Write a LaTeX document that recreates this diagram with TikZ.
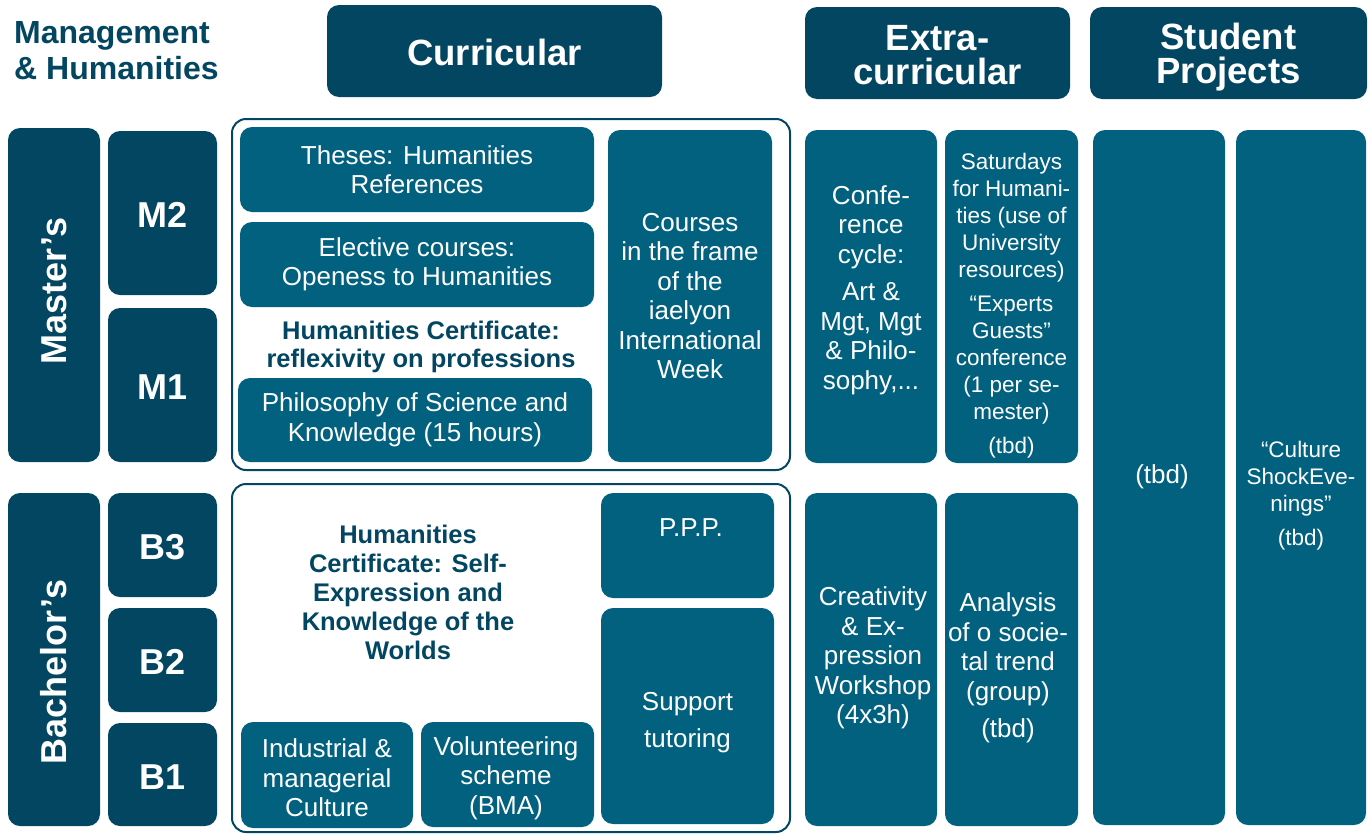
\documentclass[tikz,border=0pt]{standalone}
\usepackage{fontspec}
\setmainfont{Liberation Sans}
\usepackage{tikz}
\definecolor{navy}{RGB}{3,70,98}
\definecolor{petrol}{RGB}{1,97,127}
\tikzset{
  head/.style={fill=navy, rounded corners=12pt, inner sep=0pt, text=white, align=center,
    font=\bfseries\fontsize{36.5}{33.5}\selectfont},
  level/.style={fill=navy, rounded corners=12pt, inner sep=0pt, text=white, text height=29pt,
    font=\bfseries\fontsize{36}{38}\selectfont},
  item/.style={fill=petrol, rounded corners=12pt, inner sep=0pt, text=white, align=center,
    font=\fontsize{26}{29.5}\selectfont},
  small/.style={text=white, align=center, inner sep=0pt, font=\fontsize{22.5}{27}\selectfont},
  plain/.style={text=white, align=center, inner sep=0pt, font=\fontsize{26}{29.5}\selectfont},
  cert/.style={text=navy, align=center, inner sep=0pt, font=\bfseries\fontsize{25.5}{29}\selectfont},
  group/.style={draw=navy, line width=2pt, rounded corners=14pt},
}

\begin{document}
\begin{tikzpicture}[x=1pt, y=-1pt]
  \useasboundingbox (0, 0) rectangle (1368, 833);

  % headers
  \node[text=navy, align=left, anchor=west, inner sep=0pt, font=\bfseries\fontsize{32}{36}\selectfont]
    (title) at (14, 51) {Management\\\& Humanities};
  \node[head, text height=29pt, minimum width=335pt, minimum height=92pt] (curr) at (494.5, 51) {Curricular};
  \node[head, minimum width=265pt, minimum height=92pt] (extra) at (937.5, 53) {};
  \node[head, fill=none] (extratxt) at (937.5, 55) {Extra-\\curricular};
  \node[head, minimum width=277pt, minimum height=92pt] (stud) at (1228.5, 53) {};
  \node[head, fill=none, font=\bfseries\fontsize{36.5}{34}\selectfont] (studtxt) at (1228.5, 57) {Student\\Projects};

  % degrees and years
  \node[level, minimum width=92pt, minimum height=334pt] (master) at (54, 295) {};
  \node[level, text height=, rotate=90] (mastertxt) at (54, 291) {Master’s};
  \node[level, minimum width=92pt, minimum height=333pt] (bachelor) at (54, 659.5) {};
  \node[level, text height=, rotate=90] (bachelortxt) at (54, 672) {Bachelor’s};
  \node[level, minimum width=109pt, minimum height=164pt] (m2) at (162.5, 213) {M2};
  \node[level, minimum width=109pt, minimum height=154pt] (m1) at (162.5, 385) {M1};
  \node[level, minimum width=109pt, minimum height=104pt] (b3) at (162.5, 545) {B3};
  \node[level, minimum width=109pt, minimum height=104pt] (b2) at (162.5, 660) {B2};
  \node[level, minimum width=109pt, minimum height=103pt] (b1) at (162.5, 774.5) {B1};

  % curricular, master
  \draw[group] (232, 119) rectangle (790, 470);
  \node[item, minimum width=354pt, minimum height=85pt] (theses) at (417, 169.5) {Theses: Humanities\\References};
  \node[item, minimum width=354pt, minimum height=85pt] (elective) at (417, 264.5) {Elective courses:\\Openess to Humanities};
  \node[cert, font=\bfseries\fontsize{25.5}{28}\selectfont] (mcert) at (421, 347) {Humanities Certificate:\\reflexivity on professions};
  \node[item, minimum width=354pt, minimum height=84pt] (philo) at (415, 420) {Philosophy of Science and\\Knowledge (15 hours)};
  \node[item, minimum width=164pt, minimum height=332pt] (courses) at (690, 296)
    {Courses\\in the frame\\of the\\iaelyon\\International\\Week};

  % curricular, bachelor
  \draw[group] (232, 484) rectangle (790, 832);
  \node[cert] (bcert) at (408, 592) {Humanities\\Certificate: Self-\\Expression and\\Knowledge of the\\Worlds};
  \node[item, minimum width=173pt, minimum height=105pt] (ppp) at (687.5, 545.5) {};
  \node[plain] (ppptxt) at (691, 528) {P.P.P.};
  \node[item, minimum width=173pt, minimum height=216pt] (support) at (687.5, 716) {};
  \node[plain, font=\fontsize{26}{37}\selectfont] (supporttxt) at (687.5, 723) {Support\\tutoring};
  \node[item, minimum width=172pt, minimum height=106pt] (indus) at (327, 775) {};
  \node[plain] (industxt) at (327, 778) {Industrial \&\\managerial\\Culture};
  \node[item, minimum width=173pt, minimum height=105pt] (volun) at (507.5, 774.5) {};
  \node[plain] (voluntxt) at (506, 778) {Volunteering\\scheme\\(BMA)};

  % extra-curricular
  \node[item, minimum width=132pt, minimum height=333pt] (conf) at (871, 296.5) {};
  \node[plain] (conftxt) at (871, 290) {Confe-\\rence\\cycle:\\[8pt]Art \&\\Mgt, Mgt\\\& Philo-\\sophy,...};
  \node[item, minimum width=133pt, minimum height=333pt] (sat) at (1011.5, 296.5) {};
  \node[small] (sattxt) at (1011.5, 306) {Saturdays\\for Humani-\\ties (use of\\University\\resources)\\[7pt]“Experts\\Guests”\\conference\\(1 per se-\\mester)\\[7pt](tbd)};
  \node[item, minimum width=132pt, minimum height=333pt] (creat) at (871, 659.5) {};
  \node[plain] (creattxt) at (873, 658) {Creativity\\\& Ex-\\pression\\Workshop\\(4x3h)};
  \node[item, minimum width=133pt, minimum height=333pt] (analysis) at (1011.5, 659.5) {};
  \node[plain] (analysistxt) at (1008, 668) {Analysis\\of o socie-\\tal trend\\(group)\\[8pt](tbd)};

  % student projects
  \node[item, minimum width=132pt, minimum height=695pt] (tbd) at (1159, 477.5) {};
  \node[plain] (tbdtxt) at (1162, 477) {(tbd)};
  \node[item, minimum width=130pt, minimum height=695pt] (culture) at (1301, 477.5) {};
  \node[small] (culturetxt) at (1301, 496) {“Culture\\ShockEve-\\nings”\\[7pt](tbd)};
\end{tikzpicture}
\end{document}
